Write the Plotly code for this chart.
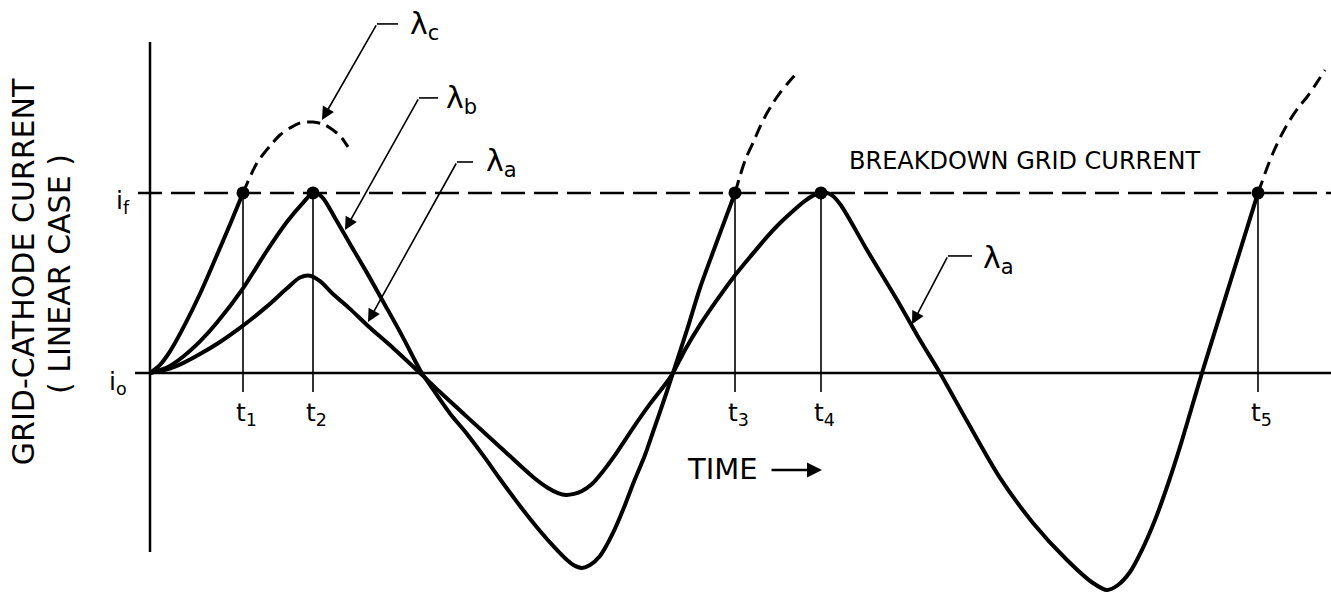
import plotly.graph_objects as go

# Time axis in arbitrary units (origin at t = 0); current in units where i_f = 10, i_o = 0
I_O = 0.0
I_F = 10.0

# lambda_c: rises to breakdown at t1
lam_c_t = [0, 1.0, 2.0, 3.5, 5.0, 6.5, 8.0, 9.3]
lam_c_i = [0, 0.45, 1.2, 2.7, 4.4, 6.3, 8.25, 10.0]
# lambda_c beyond breakdown (hypothetical, dashed)
lam_c_ext_t = [9.3, 10.7, 12.0, 13.0, 14.0, 15.0, 16.3, 17.3, 18.3, 19.1, 19.8]
lam_c_ext_i = [10.0, 11.67, 12.61, 13.22, 13.61, 13.89, 13.94, 13.83, 13.5, 13.11, 12.56]

# lambda_b: touches i_f at t2, breaks down at t3
lam_b_t = [0, 1.7, 3.3, 5.0, 6.7, 9.3, 11.7, 13.7, 15.3, 16.3,
           17.2, 18.5, 20.0, 21.7, 23.5, 25.0, 26.0, 27.0, 28.2, 30.0,
           31.7, 33.5, 35.0, 37.0, 39.0, 40.5, 41.7, 42.5, 43.2, 44.0,
           45.0, 46.3, 47.5, 48.3, 49.5, 50.3, 51.3, 52.3, 53.7, 55.0,
           56.2, 57.2, 58.5]
lam_b_i = [0, 0.3, 0.9, 1.75, 2.8, 4.7, 6.8, 8.4, 9.45, 10.0,
           9.78, 8.61, 7.17, 5.56, 3.78, 2.28, 1.22, 0.17, -0.83, -2.25,
           -3.39, -4.72, -5.89, -7.39, -8.78, -9.72, -10.39, -10.72, -10.83, -10.67,
           -10.17, -8.89, -7.33, -6.17, -4.56, -3.28, -1.67, 0.0, 2.39, 4.72,
           6.56, 8.06, 10.0]
lam_b_ext_t = [58.5, 59.0, 59.6, 60.3, 61.0, 61.7, 62.3, 63.0, 63.8, 64.7]
lam_b_ext_i = [10.0, 10.94, 11.94, 12.78, 13.67, 14.44, 15.0, 15.56, 16.11, 16.67]

# lambda_a: growing oscillation, touches i_f at t4, breaks down at t5
lam_a_t = [0, 1.7, 3.3, 5.0, 7.0, 9.0, 11.7, 13.7, 15.0, 16.0,
           17.0, 18.3, 20.0, 21.8, 24.3, 27.0, 29.0, 31.7, 35.0, 38.3,
           39.8, 40.8, 41.6, 42.4, 43.2, 44.2, 45.0, 46.5, 48.3, 50.0,
           51.7, 52.3, 53.5, 55.0, 56.7, 58.3, 60.0, 61.7, 63.0, 64.3,
           65.5, 66.3, 67.1, 68.0, 69.0, 71.7, 75.0, 77.0, 79.0, 81.7,
           85.0, 88.3, 91.7, 94.3, 95.7, 96.8, 98.0, 99.2, 100.5, 101.8,
           103.0, 104.1, 105.2, 106.6, 108.0, 109.4, 110.8]
lam_a_i = [0, 0.2, 0.55, 1.05, 1.72, 2.5, 3.7, 4.7, 5.3, 5.4,
           5.1, 4.39, 3.56, 2.61, 1.39, 0.0, -1.06, -2.44, -4.11, -5.78,
           -6.39, -6.67, -6.78, -6.72, -6.56, -6.17, -5.67, -4.56, -3.06, -1.72,
           -0.5, 0.0, 1.28, 2.67, 4.06, 5.28, 6.44, 7.56, 8.33, 9.0,
           9.56, 9.85, 10.0, 9.94, 9.39, 6.83, 3.78, 1.83, 0.0, -2.67,
           -5.83, -8.33, -10.39, -11.67, -12.06, -11.78, -11.06, -9.83, -8.17, -6.17,
           -4.11, -2.06, 0.0, 2.5, 5.0, 7.5, 10.0]
lam_a_ext_t = [110.8, 111.2, 111.7, 112.3, 113.1, 114.0, 114.8, 115.7, 116.6, 117.5]
lam_a_ext_i = [10.0, 10.61, 11.39, 12.22, 13.17, 14.06, 14.72, 15.33, 16.06, 16.83]

# Instants where curves reach the breakdown current
t_marks = [9.3, 16.3, 58.5, 67.1, 110.8]
t_labels = ["t<sub>1</sub>", "t<sub>2</sub>", "t<sub>3</sub>", "t<sub>4</sub>", "t<sub>5</sub>"]

X_RANGE = [-15.0, 118.1]
Y_RANGE = [-12.28, 20.72]

FONT = "DejaVu Sans, Verdana, sans-serif"
INK = "black"

fig = go.Figure()

solid = dict(color=INK, width=4, shape="spline", smoothing=0.8)
dashed = dict(color=INK, width=3, dash="13px,7px", shape="spline", smoothing=0.8)

fig.add_trace(go.Scatter(x=lam_a_t, y=lam_a_i, mode="lines", line=solid))
fig.add_trace(go.Scatter(x=lam_b_t, y=lam_b_i, mode="lines", line=solid))
fig.add_trace(go.Scatter(x=lam_c_t, y=lam_c_i, mode="lines", line=solid))
fig.add_trace(go.Scatter(x=lam_c_ext_t, y=lam_c_ext_i, mode="lines", line=dashed))
fig.add_trace(go.Scatter(x=lam_b_ext_t, y=lam_b_ext_i, mode="lines", line=dashed))
fig.add_trace(go.Scatter(x=lam_a_ext_t, y=lam_a_ext_i, mode="lines", line=dashed))

# Breakdown points
fig.add_trace(go.Scatter(x=t_marks, y=[I_F] * len(t_marks), mode="markers",
                         marker=dict(color=INK, size=13)))

shapes = []
# Current axis (vertical) and i_o baseline
shapes.append(dict(type="line", xref="x", yref="y", x0=0, x1=0, y0=-9.94, y1=18.39,
                   line=dict(color=INK, width=2.5)))
shapes.append(dict(type="line", xref="x", yref="y", x0=-1.5, x1=X_RANGE[1], y0=I_O, y1=I_O,
                   line=dict(color=INK, width=2.5)))
# Breakdown grid current level
shapes.append(dict(type="line", xref="x", yref="y", x0=-1.2, x1=X_RANGE[1], y0=I_F, y1=I_F,
                   line=dict(color=INK, width=2.5, dash="24px,9px")))
# Drop lines from breakdown points to the time axis
for t in t_marks:
    shapes.append(dict(type="line", xref="x", yref="y", x0=t, x1=t, y0=-1.06, y1=I_F,
                       line=dict(color=INK, width=1.6)))

# Leader lines: (label x0, label x1, y, arrow tip x, arrow tip y)
leaders = [
    (22.7, 24.8, 19.39, 17.2, 14.06),
    (26.9, 28.8, 15.28, 19.5, 7.94),
    (30.7, 32.3, 11.72, 21.8, 2.83),
    (79.8, 82.2, 6.5, 76.2, 2.7),
]
for x0, x1, y, tx, ty in leaders:
    shapes.append(dict(type="line", xref="x", yref="y", x0=x0, x1=x1, y0=y, y1=y,
                       line=dict(color=INK, width=1.6)))

annotations = []
for x0, x1, y, tx, ty in leaders:
    annotations.append(dict(x=tx, y=ty, ax=x0, ay=y, xref="x", yref="y", axref="x", ayref="y",
                            text="", showarrow=True, arrowhead=2, arrowsize=1.6,
                            arrowwidth=1.6, arrowcolor=INK, standoff=0, startstandoff=0))

lam_font = dict(family=FONT, size=30, color=INK)
annotations += [
    dict(x=27.4, y=19.28, text="λ<sub>c</sub>", showarrow=False, font=lam_font),
    dict(x=31.1, y=15.17, text="λ<sub>b</sub>", showarrow=False, font=lam_font),
    dict(x=35.1, y=11.72, text="λ<sub>a</sub>", showarrow=False, font=lam_font),
    dict(x=84.8, y=6.28, text="λ<sub>a</sub>", showarrow=False, font=lam_font),
]

lab_font = dict(family=FONT, size=25, color=INK)
annotations.append(dict(x=-2.7, y=I_F - 0.5, text="i<sub>f</sub>", showarrow=False, font=lab_font))
annotations.append(dict(x=-3.2, y=I_O - 0.56, text="i<sub>o</sub>", showarrow=False, font=lab_font))
for t, lab in zip(t_marks, t_labels):
    annotations.append(dict(x=t + 0.3, y=-2.3, text=lab, showarrow=False, font=lab_font))

annotations.append(dict(x=87.45, y=11.78, text="BREAKDOWN GRID CURRENT", showarrow=False,
                        font=dict(family=FONT, size=24, color=INK)))
annotations.append(dict(x=57.25, y=-5.33, text="TIME", showarrow=False,
                        font=dict(family=FONT, size=29, color=INK)))
annotations.append(dict(x=67.2, y=-5.39, ax=62.0, ay=-5.39, xref="x", yref="y", axref="x", ayref="y",
                        text="", showarrow=True, arrowhead=2, arrowsize=1.2, arrowwidth=2.5,
                        arrowcolor=INK, standoff=0, startstandoff=0))

# Vertical axis title
annotations.append(dict(x=-12.7, y=5.6, text="GRID-CATHODE CURRENT", showarrow=False, textangle=-90,
                        font=dict(family=FONT, size=30, color=INK)))
annotations.append(dict(x=-9.0, y=5.5, text="( LINEAR CASE )", showarrow=False, textangle=-90,
                        font=dict(family=FONT, size=30, color=INK)))

fig.update_layout(
    width=1331, height=594, autosize=False,
    margin=dict(l=0, r=0, t=0, b=0),
    paper_bgcolor="white", plot_bgcolor="white",
    showlegend=False,
    shapes=shapes, annotations=annotations,
    xaxis=dict(range=X_RANGE, visible=False, showgrid=False, zeroline=False, fixedrange=True),
    yaxis=dict(range=Y_RANGE, visible=False, showgrid=False, zeroline=False, fixedrange=True),
)

fig.write_html("out.html", config={"displayModeBar": False})
